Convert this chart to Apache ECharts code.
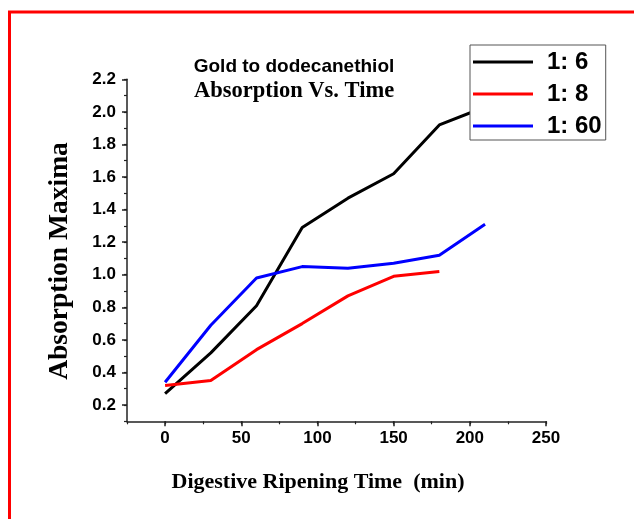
<!DOCTYPE html>
<html>
<head>
<meta charset="utf-8">
<title>Gold to dodecanethiol – Absorption Vs. Time</title>
<script src="https://cdn.jsdelivr.net/npm/echarts@6/dist/echarts.min.js"></script>
<style>
  html, body { margin: 0; padding: 0; background: #fff; }
  #chart { width: 634px; height: 519px; }
</style>
</head>
<body>
<div id="chart"></div>
<script>
// Digestive ripening time (min)
const timeMin = [0, 30, 60, 90, 120, 150, 180, 210];

// Absorption maxima per gold : dodecanethiol ratio
const ratio1to6  = [0.27, 0.52, 0.81, 1.29, 1.47, 1.62, 1.92, 2.03];
const ratio1to8  = [0.32, 0.35, 0.54, 0.70, 0.87, 0.99, 1.02];
const ratio1to60 = [0.34, 0.69, 0.98, 1.05, 1.04, 1.07, 1.12, 1.31];

const seriesNames = ['1: 6', '1: 8', '1: 60'];

// Labelled (major) tick values
const xTickValues = [0, 50, 100, 150, 200, 250];
const yTickValues = [0.2, 0.4, 0.6, 0.8, 1.0, 1.2, 1.4, 1.6, 1.8, 2.0, 2.2];

const pair = (ys) => ys.map((y, i) => [timeMin[i], y]);

const SANS = '"Liberation Sans", Arial, sans-serif';
const SERIF = '"Liberation Serif", "Times New Roman", serif';
const AXIS_COLOR = '#222';

const chart = echarts.init(document.getElementById('chart'), null, { renderer: 'canvas' });

const axisLine = { show: true, onZero: false, lineStyle: { color: AXIS_COLOR, width: 1.5 } };

chart.setOption({
  backgroundColor: '#fff',
  animation: false,
  grid: { left: 127, right: 88, top: 79.3, bottom: 97.7, containLabel: false },
  legend: {
    left: 470, top: 45,
    orient: 'vertical',
    data: seriesNames,
    icon: 'rect',
    itemWidth: 60, itemHeight: 3, itemGap: 8,
    padding: [5, 4, 2, 3],
    backgroundColor: '#fff',
    borderColor: '#555', borderWidth: 1, borderRadius: 0,
    textStyle: { fontFamily: SANS, fontWeight: 'bold', fontSize: 24, color: '#000', padding: [0, 0, 0, 9] },
    z: 10
  },
  xAxis: [
    {
      type: 'value', min: -25, max: 250, interval: 25, position: 'bottom',
      axisLine: axisLine,
      splitLine: { show: false },
      axisTick: { show: true, inside: false, length: 5, customValues: xTickValues, lineStyle: { color: AXIS_COLOR, width: 1.5 } },
      axisLabel: {
        customValues: xTickValues, margin: 9,
        fontFamily: SANS, fontWeight: 'bold', fontSize: 17, color: '#000'
      }
    },
    {
      type: 'value', min: -25, max: 250, interval: 25, position: 'bottom',
      axisLine: { show: false, onZero: false },
      splitLine: { show: false },
      axisTick: { show: true, inside: false, length: 3, lineStyle: { color: AXIS_COLOR, width: 1.2 } },
      axisLabel: { show: false }
    }
  ],
  yAxis: [
    {
      type: 'value', min: 0.1, max: 2.2, interval: 0.1, position: 'left',
      axisLine: axisLine,
      splitLine: { show: false },
      axisTick: { show: true, inside: false, length: 5, customValues: yTickValues, lineStyle: { color: AXIS_COLOR, width: 1.5 } },
      axisLabel: {
        customValues: yTickValues, margin: 11,
        formatter: (v) => v.toFixed(1),
        fontFamily: SANS, fontWeight: 'bold', fontSize: 17, color: '#000'
      }
    },
    {
      type: 'value', min: 0.1, max: 2.2, interval: 0.1, position: 'left',
      axisLine: { show: false, onZero: false },
      splitLine: { show: false },
      axisTick: { show: true, inside: false, length: 3, lineStyle: { color: AXIS_COLOR, width: 1.2 } },
      axisLabel: { show: false }
    }
  ],
  series: [
    { name: seriesNames[0], type: 'line', data: pair(ratio1to6), symbol: 'none',
      lineStyle: { color: '#000', width: 3 }, itemStyle: { color: '#000' } },
    { name: seriesNames[1], type: 'line', data: pair(ratio1to8), symbol: 'none',
      lineStyle: { color: '#ff0000', width: 3 }, itemStyle: { color: '#ff0000' } },
    { name: seriesNames[2], type: 'line', data: pair(ratio1to60), symbol: 'none',
      lineStyle: { color: '#0000ff', width: 3 }, itemStyle: { color: '#0000ff' } }
  ],
  graphic: [
    // red frame around the figure
    { type: 'rect', silent: true, z: 0,
      shape: { x: 9.5, y: 12, width: 800, height: 700 },
      style: { fill: null, stroke: '#ff0000', lineWidth: 3 } },
    // title, two lines
    { type: 'text', x: 294, y: 67, silent: true,
      style: { text: 'Gold to dodecanethiol', font: 'bold 19px ' + SANS, fill: '#000', align: 'center', verticalAlign: 'middle' } },
    { type: 'text', x: 294, y: 91, silent: true,
      style: { text: 'Absorption Vs. Time', font: 'bold 22.5px ' + SERIF, fill: '#000', align: 'center', verticalAlign: 'middle' } },
    // axis titles
    { type: 'text', x: 60, y: 261, rotation: Math.PI / 2, silent: true,
      style: { text: 'Absorption Maxima', font: 'bold 27.5px ' + SERIF, fill: '#000', align: 'center', verticalAlign: 'middle' } },
    { type: 'text', x: 318, y: 482, silent: true,
      style: { text: 'Digestive Ripening Time  (min)', font: 'bold 22px ' + SERIF, fill: '#000', align: 'center', verticalAlign: 'middle' } }
  ]
});
</script>
</body>
</html>
